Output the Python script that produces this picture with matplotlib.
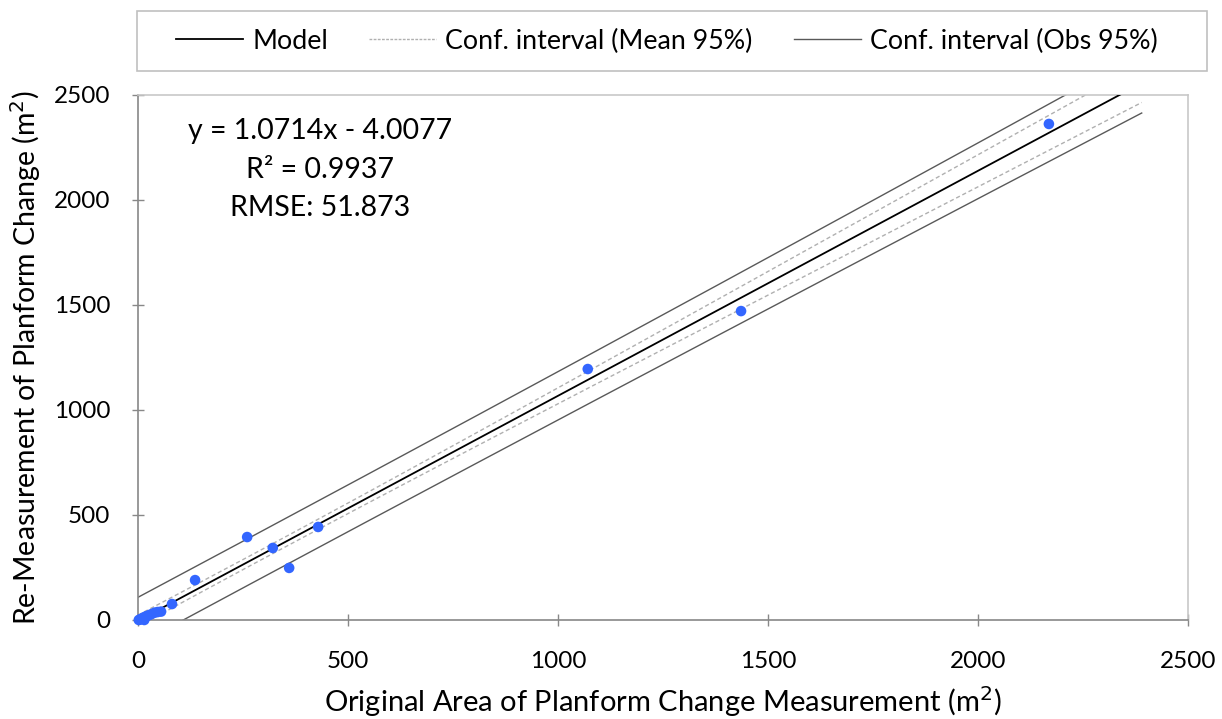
import numpy as np
import matplotlib
matplotlib.use("Agg")
import matplotlib.pyplot as plt
from matplotlib.lines import Line2D
from matplotlib.patches import Rectangle

plt.rcParams['font.family'] = ['Lato', 'DejaVu Sans']

# Observed pairs (m^2)
original_area = [2, 5, 8, 12, 15, 16, 20, 25, 32, 40, 47, 55, 81, 136, 260, 321, 360, 429, 1071, 1436, 2169]
re_measured = [0, 3, 5, 10, 0, 14, 18, 22, 28, 35, 38, 40, 76, 190, 395, 343, 248, 443, 1195, 1471, 2362]

# Fitted model stated on the chart
slope = 1.0714
intercept = -4.0077
r_squared = 0.9937
rmse = 51.873
t_crit = 2.093

x_ticks = [0, 500, 1000, 1500, 2000, 2500]
y_ticks = [0, 500, 1000, 1500, 2000, 2500]
line_x_max = 2390

xo = np.array(original_area, dtype=float)
n = len(xo)
xbar = xo.mean()
sxx = ((xo - xbar) ** 2).sum()

xl = np.linspace(0, line_x_max, 400)
yl = slope * xl + intercept
se_mean = rmse * np.sqrt(1.0 / n + (xl - xbar) ** 2 / sxx)
se_obs = rmse * np.sqrt(1.0 + 1.0 / n + (xl - xbar) ** 2 / sxx)

fig = plt.figure(figsize=(12.22, 7.19), dpi=100)
ax = fig.add_axes([0.1129, 0.1377, 0.8592, 0.7302])

obs_col = '#595959'
mean_col = '#b0b0b0'
ax.plot(xl, yl + t_crit * se_obs, color=obs_col, lw=1.0, zorder=2)
ax.plot(xl, yl - t_crit * se_obs, color=obs_col, lw=1.0, zorder=2)
ax.plot(xl, yl + t_crit * se_mean, color=mean_col, lw=1.0, ls=(0, (3, 2)), zorder=2)
ax.plot(xl, yl - t_crit * se_mean, color=mean_col, lw=1.0, ls=(0, (3, 2)), zorder=2)
ax.plot(xl, yl, color='black', lw=1.3, zorder=3)
ax.scatter(original_area, re_measured, s=58, color='#3366ff', edgecolors='none', zorder=4, clip_on=False)

ax.set_xlim(0, 2500)
ax.set_ylim(0, 2500)
ax.set_xticks(x_ticks)
ax.set_yticks(y_ticks)
ax.tick_params(direction='inout', length=8, width=1, color='#888888', labelsize=17.5)
ax.tick_params(axis='x', pad=18)
ax.tick_params(axis='y', pad=16)
for side in ['left', 'bottom']:
    ax.spines[side].set_color('#888888')
    ax.spines[side].set_linewidth(1.2)
for side in ['top', 'right']:
    ax.spines[side].set_color('#c8c8c8')
    ax.spines[side].set_linewidth(1.2)

ax.set_xlabel('Original Area of Planform Change Measurement (m$^2$)', fontsize=21, labelpad=9)
ax.set_ylabel('Re-Measurement of Planform Change (m$^2$)', fontsize=20.5, labelpad=8)

ax.text(433, 2330, f'y = {slope:.4f}x - {abs(intercept):.4f}', fontsize=20.5, ha='center', va='center')
ax.text(433, 2145, f'R² = {r_squared:.4f}', fontsize=20.5, ha='center', va='center')
ax.text(433, 1960, f'RMSE: {rmse:.3f}', fontsize=20.5, ha='center', va='center')

# Legend box across the top
W, H = 1222.0, 719.0
fig.patches.append(Rectangle((137 / W, 1 - 71 / H), (1207 - 137) / W, 60 / H,
                             transform=fig.transFigure, facecolor='white',
                             edgecolor='#c0c0c0', linewidth=1.2))
handles = [
    Line2D([], [], color='black', lw=1.3),
    Line2D([], [], color=mean_col, lw=1.0, ls=(0, (2, 1))),
    Line2D([], [], color=obs_col, lw=1.0),
]
labels = ['Model', 'Conf. interval (Mean 95%)', 'Conf. interval (Obs 95%)']
fig.legend(handles, labels, loc='center', bbox_to_anchor=(667 / W, 1 - 41 / H), ncol=3,
           fontsize=19.3, frameon=False, handlelength=2.5,
           columnspacing=1.55, handletextpad=0.33, borderpad=0.2)

fig.savefig('out.png', dpi=100)
